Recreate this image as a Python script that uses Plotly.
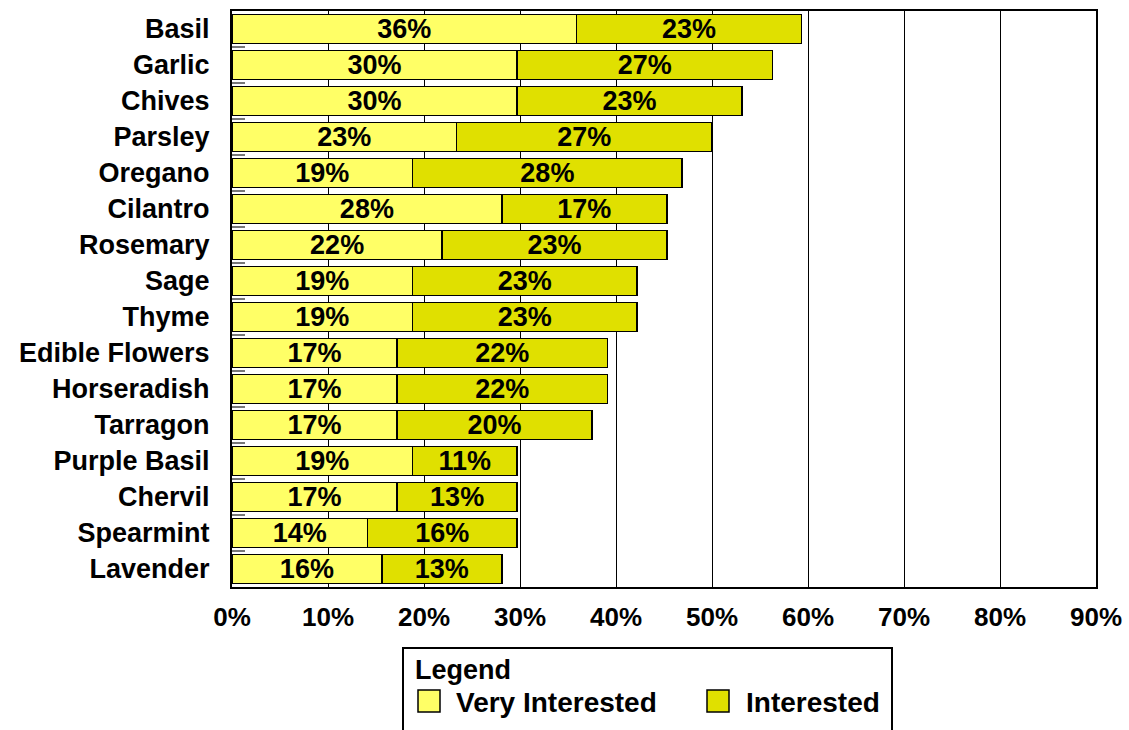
import plotly.graph_objects as go

herbs = ["Basil", "Garlic", "Chives", "Parsley", "Oregano", "Cilantro", "Rosemary",
         "Sage", "Thyme", "Edible Flowers", "Horseradish", "Tarragon", "Purple Basil",
         "Chervil", "Spearmint", "Lavender"]
very_interested = [35.9, 29.7, 29.7, 23.4, 18.8, 28.1, 21.9, 18.8, 18.8, 17.2, 17.2,
                   17.2, 18.8, 17.2, 14.1, 15.6]
interested = [23.4, 26.6, 23.4, 26.6, 28.1, 17.2, 23.4, 23.4, 23.4, 21.9, 21.9,
              20.3, 10.9, 12.5, 15.6, 12.5]
x_ticks = [0, 10, 20, 30, 40, 50, 60, 70, 80, 90]
series_names = ["Very Interested", "Interested"]
colors = ["#FFFF66", "#E0E000"]

FONT = "Liberation Sans, Arial, sans-serif"
W, H = 1129, 730
ML, MR, MT, MB = 232, 33, 11, 143
PW, PH = W - ML - MR, H - MT - MB


def lbl(v):
    return f"{int(v + 0.5)}%"


fig = go.Figure()
for vals, name, col in zip([very_interested, interested], series_names, colors):
    fig.add_trace(go.Bar(
        y=herbs, x=vals, orientation="h", name=name,
        marker=dict(color=col, line=dict(color="black", width=1.5)),
        text=[lbl(v) for v in vals], textposition="inside",
        insidetextanchor="middle", textangle=0, constraintext="none",
        textfont=dict(family=FONT, size=27, color="black", weight="bold"),
        showlegend=False,
    ))

fig.update_layout(
    barmode="stack", bargap=0.19,
    width=W, height=H,
    margin=dict(l=ML, r=MR, t=MT, b=MB, pad=0, autoexpand=False),
    paper_bgcolor="white", plot_bgcolor="white",
    uniformtext=dict(mode=False),
)
fig.update_xaxes(
    range=[0, 90], tickvals=x_ticks, ticktext=[f"{t}%" for t in x_ticks],
    showgrid=True, gridcolor="black", gridwidth=1, automargin=False,
    showline=True, linecolor="black", linewidth=2, mirror=True,
    ticks="", zeroline=False, ticklabelstandoff=6,
    tickfont=dict(family=FONT, size=26, color="black", weight="bold"),
)
fig.update_yaxes(
    autorange="reversed", categoryorder="array", categoryarray=herbs,
    showline=True, linecolor="black", linewidth=2, mirror=True, automargin=False,
    ticks="inside", tickson="boundaries", ticklen=13, tickcolor="#777", tickwidth=2,
    showgrid=False, ticklabelstandoff=15,
    tickfont=dict(family=FONT, size=27, color="black", weight="bold"),
)


def px_x(px):
    return (px - ML) / PW


def px_y(py):
    return (H - MB - py) / PH


# custom legend box (bottom edge runs off the page as in the reference)
fig.add_shape(type="rect", xref="paper", yref="paper",
              x0=px_x(403), x1=px_x(892), y0=px_y(648), y1=px_y(760),
              line=dict(color="black", width=2), fillcolor="white")
fig.add_annotation(xref="paper", yref="paper", x=px_x(413), y=px_y(670),
                   text="Legend", showarrow=False, xanchor="left", yanchor="middle",
                   font=dict(family=FONT, size=27, color="black", weight="bold"))
for name, col, sx, tx in zip(series_names, colors, [418, 707], [454, 744]):
    fig.add_shape(type="rect", xref="paper", yref="paper",
                  x0=px_x(sx), x1=px_x(sx + 22), y0=px_y(690), y1=px_y(712),
                  line=dict(color="black", width=1.5), fillcolor=col)
    fig.add_annotation(xref="paper", yref="paper", x=px_x(tx), y=px_y(702),
                       text=name, showarrow=False, xanchor="left", yanchor="middle",
                       font=dict(family=FONT, size=28, color="black", weight="bold"))

fig.write_html("out.html")
